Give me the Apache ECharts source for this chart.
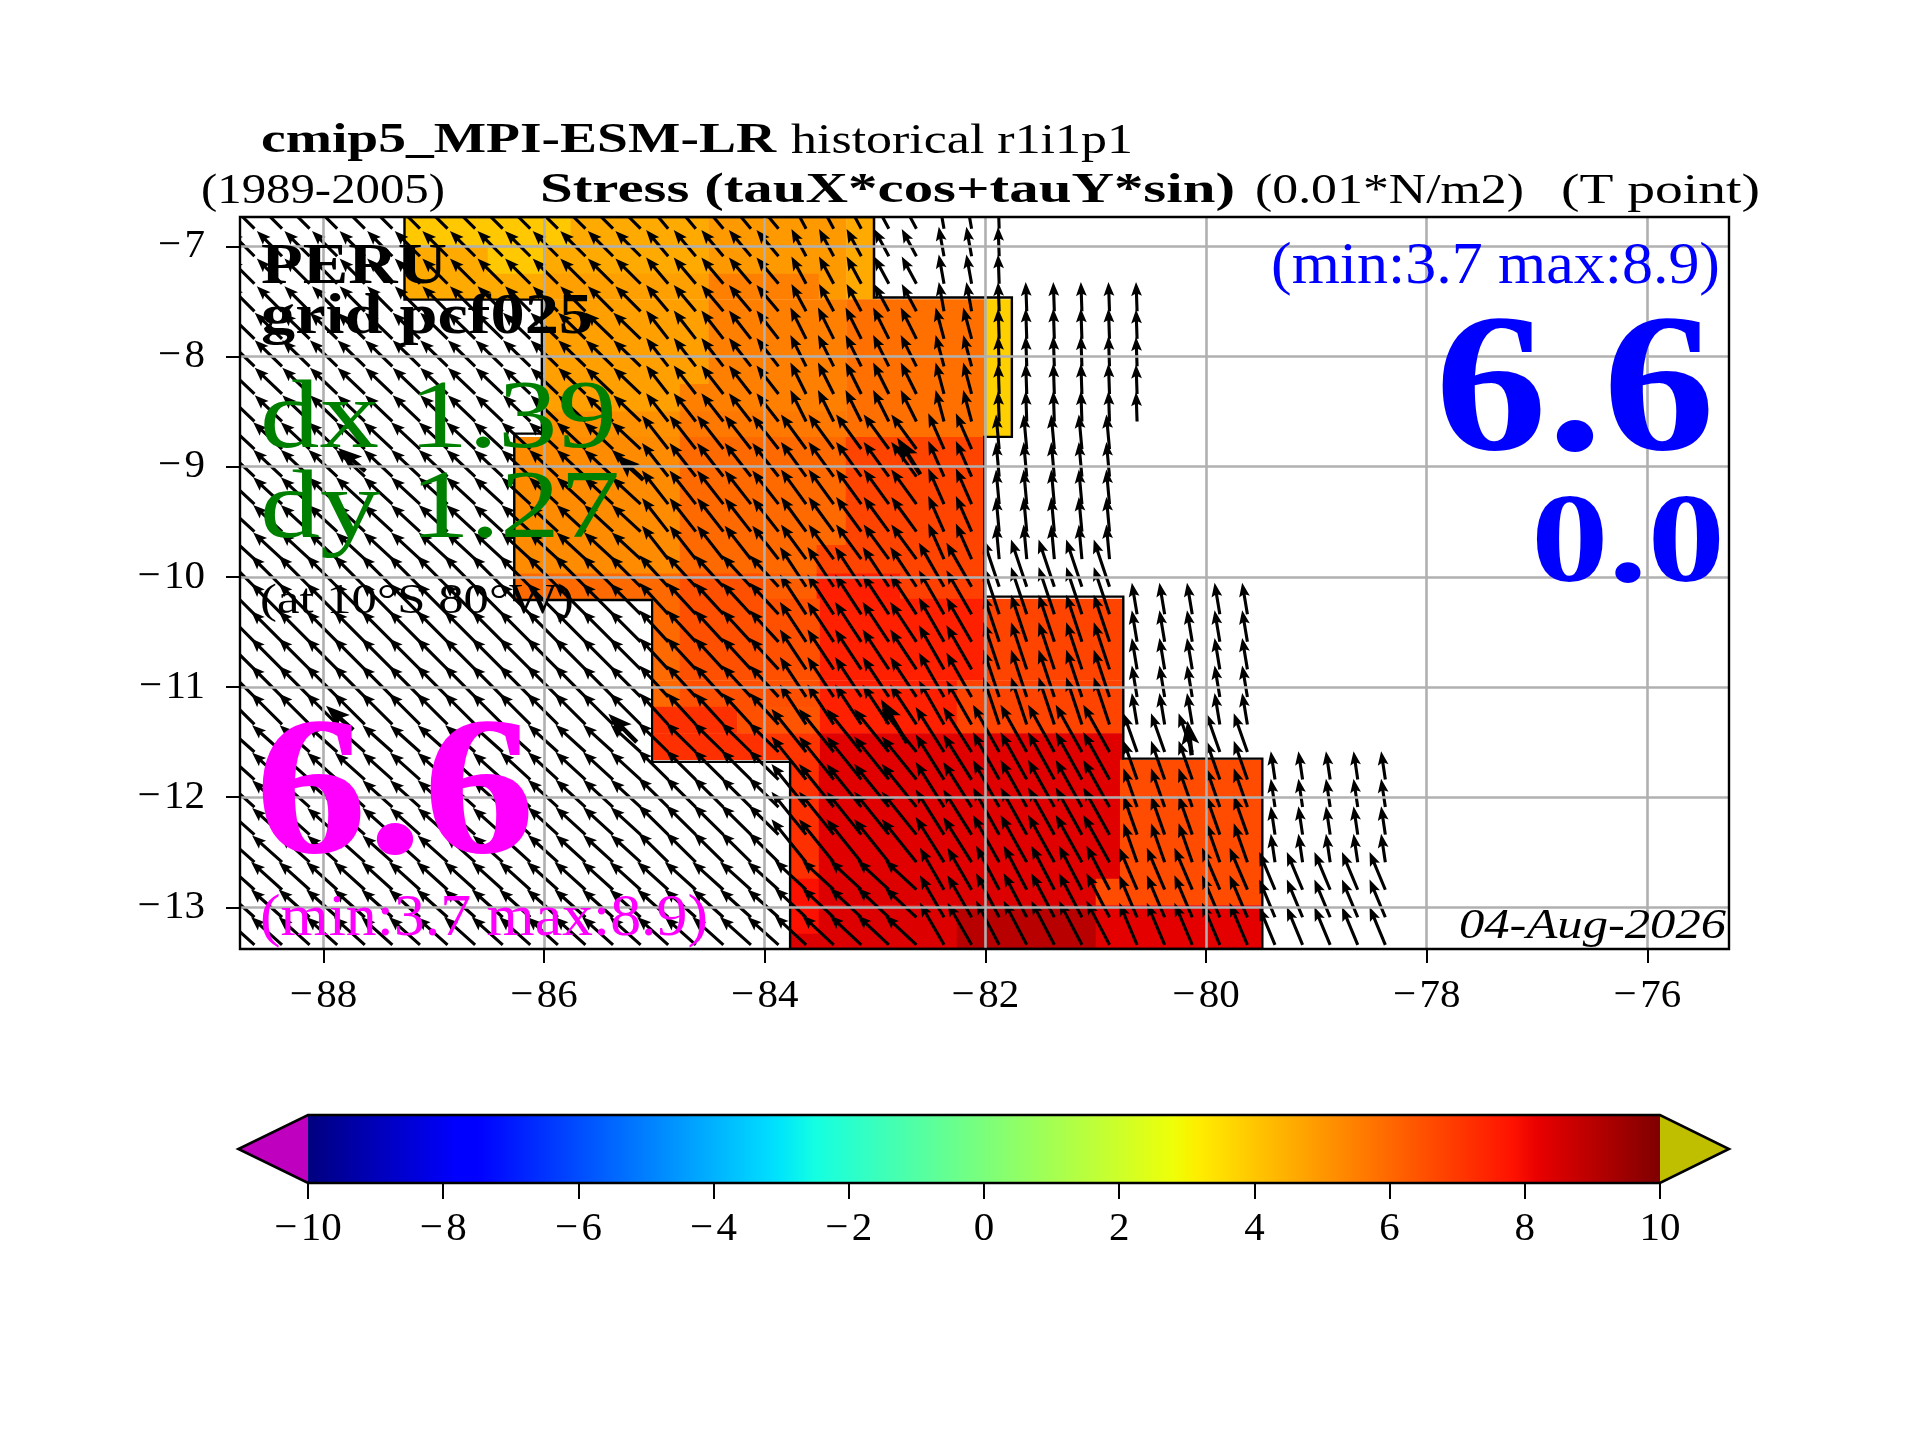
<!DOCTYPE html>
<html><head><meta charset="utf-8">
<style>html,body{margin:0;padding:0;background:#fff}#c{width:1920px;height:1440px}</style>
<script src="https://cdn.jsdelivr.net/npm/echarts@6/dist/echarts.min.js"></script>
</head><body><div id="c"></div>
<script>
// ---- axis data
const lonRange = [-88.756, -75.26];
const latRange = [-13.378, -6.734];
const lonTicks = [-88, -86, -84, -82, -80, -78, -76];
const latTicks = [-13, -12, -11, -10, -9, -8, -7];
const colorbarTicksRange = [-10, 10];
const colorbarExtend = [-11.03, 11.02];

// ---- jet colormap [fraction, r, g, b]
const jetStops = [[0,0,0,127],[0.11,0,0,255],[0.125,0,0,255],[0.34,0,219,255],[0.35,0,230,250],[0.375,20,255,226],
  [0.64,238,255,8],[0.65,247,245,0],[0.66,255,236,0],[0.89,255,19,0],[0.91,232,0,0],[1,127,0,0]];

// ---- stress field in latitude bands: band top, band bottom, longitude breaks, values
const bandTop = [-6.734,-7.0,-7.25,-7.48,-8.25,-8.5,-8.73,-9.71,-9.97,-10.2,-10.94,-11.18,-11.42,-11.66,-12.74,-12.98,-13.24];
const bandBottom = [-7.0,-7.25,-7.48,-8.25,-8.5,-8.73,-9.71,-9.97,-10.2,-10.94,-11.18,-11.42,-11.66,-12.74,-12.98,-13.24,-13.378];
const bandBreaks = [
 [-87.27,-85.76,-84.51,-83.26,-83.0],
 [-87.27,-86.51,-86.01,-84.51,-83.26,-83.0],
 [-87.27,-86.01,-84.51,-83.51,-83.26,-83.0],
 [-86.01,-84.51,-83.26,-82.01,-81.76],
 [-86.01,-84.77,-83.26,-82.01,-81.76],
 [-86.01,-84.77,-83.26,-82.01,-81.76],
 [-86.28,-84.77,-83.27,-82.01],
 [-86.28,-84.77,-83.53,-82.01],
 [-86.28,-84.77,-84.0,-83.53,-82.77,-82.01],
 [-85.01,-84.77,-83.5,-82.01,-80.75],
 [-85.01,-84.77,-83.5,-82.26,-80.75],
 [-85.01,-84.25,-84.0,-83.5,-82.26,-80.75],
 [-85.01,-84.0,-83.5,-80.75],
 [-83.77,-83.51,-80.78,-79.49],
 [-83.77,-83.51,-81.0,-79.49],
 [-83.77,-83.51,-82.26,-81.0,-79.49],
 [-83.77,-82.26,-81.0,-79.49]
];
const bandValues = [
 [3.96,4.6,4.96,4.6],
 [4.6,3.96,4.6,4.96,4.6],
 [4.6,4.81,5.49,4.96,4.6],
 [4.81,5.49,5.83,3.8],
 [4.81,5.49,5.83,3.8],
 [5.15,5.66,5.83,3.8],
 [5.24,5.96,6.76],
 [5.24,5.96,6.76],
 [5.96,6.51,6.2,7.56,6.84],
 [5.96,6.51,7.52,6.76],
 [5.96,6.51,7.52,6.76],
 [7.18,6.51,6.4,7.52,6.76],
 [7.18,7.08,8.34],
 [7.18,8.34,6.59],
 [7.86,8.4,6.59],
 [7.86,8.4,9.0,8.26],
 [8.4,9.0,8.26]
];
const maskOutlineLon = [-87.265,-87.265,-86.02,-86.02,-86.27,-86.27,-85.02,-85.02,-83.77,-83.77,-79.49,-79.49,-80.75,-80.75,-82.01,-82.01,-81.76,-81.76,-83.01,-83.01];
const maskOutlineLat = [-6.734,-7.484,-7.484,-8.70,-8.70,-10.21,-10.21,-11.68,-11.68,-13.378,-13.378,-11.65,-11.65,-10.18,-10.18,-8.73,-8.73,-7.465,-7.465,-6.734];

// ---- wind stress vectors
const arrowLons = [-88.625,-88.375,-88.125,-87.875,-87.625,-87.375,-87.125,-86.875,-86.625,-86.375,-86.125,-85.875,-85.625,-85.375,-85.125,-84.875,-84.625,-84.375,-84.125,-83.875,-83.625,-83.375,-83.125,-82.875,-82.625,-82.375,-82.125,-81.875,-81.625,-81.375,-81.125,-80.875,-80.625,-80.375,-80.125,-79.875,-79.625,-79.375,-79.125,-78.875,-78.625,-78.375];
const arrowLats = [-6.84,-7.09,-7.34,-7.59,-7.84,-8.09,-8.34,-8.59,-8.84,-9.09,-9.34,-9.59,-9.84,-10.09,-10.34,-10.59,-10.84,-11.09,-11.34,-11.59,-11.84,-12.09,-12.34,-12.59,-12.84,-13.09,-13.34];
const arrowLastLon = [-81.875,-81.875,-81.875,-80.625,-80.625,-80.625,-80.625,-80.625,-80.875,-80.875,-80.875,-80.875,-80.875,-80.875,-79.625,-79.625,-79.625,-79.625,-79.625,-79.625,-78.375,-78.375,-78.375,-78.375,-78.375,-78.375,-78.375];
const vectorLonEdges = [-86.25,-85,-83.75,-82.5,-82,-80.75,-79.5,-70];
const vectorLatEdges = [-7.7,-8.7,-9.95,-11.45,-12.7,-20];
const tauX = [
 [-4.8,-4.8,-4.2,-2.8,-1.0,-0.2,-0.2,-0.2],
 [-5.2,-5.2,-4.2,-3.0,-1.6,-0.2,-0.2,-0.2],
 [-5.5,-5.5,-5.0,-4.8,-3.0,-0.6,-0.6,-0.6],
 [-5.9,-5.9,-5.5,-5.0,-4.8,-3.0,-1.0,-1.0],
 [-5.7,-5.7,-5.7,-6.6,-5.4,-5.0,-2.6,-0.8],
 [-5.9,-5.9,-5.9,-6.0,-4.6,-4.4,-3.4,-3.0]
];
const tauY = [
 [4.8,4.8,5.0,5.2,5.6,5.6,5.6,5.6],
 [5.0,5.0,5.4,6.0,6.0,5.8,5.6,5.6],
 [5.1,5.1,6.4,6.6,6.8,6.6,6.6,6.6],
 [5.9,5.9,6.0,7.6,8.4,9.0,6.0,6.0],
 [5.1,5.2,5.6,8.2,8.6,9.0,7.4,5.4],
 [5.3,5.3,5.3,5.6,8.0,8.4,8.0,7.2]
];
const markerLon = [-82.59,-85.10,-87.62,-85.16,-87.73,-82.71,-80.13];
const markerLat = [-9.07,-9.12,-9.04,-11.50,-11.39,-11.51,-11.62];
const markerTauX = [-4.4,-5.2,-5.2,-5.4,-5.2,-5.0,-0.8];
const markerTauY = [7.0,4.8,4.4,5.4,4.6,8.4,6.6];
const lengthScaleDeg = 0.0476;

// ---- texts: content, left, right, baseline, size, weight, style, colour
const serif = '"Liberation Serif","Times New Roman",serif';
const textItems = [
 ['cmip5_MPI-ESM-LR',261,776,153,43,'bold','normal','#000'],
 ['historical r1i1p1',791,1133,153,43,'normal','normal','#000'],
 ['(1989-2005)',201,445,203,43,'normal','normal','#000'],
 ['Stress (tauX*cos+tauY*sin)',540,1235,203,43,'bold','normal','#000'],
 ['(0.01*N/m2)',1255,1524,203,43,'normal','normal','#000'],
 ['(T point)',1561,1760,203,43,'normal','normal','#000'],
 ['PERU',261,447,284,56,'bold','normal','#000'],
 ['grid pcf025',261,593,334,56,'bold','normal','#000'],
 ['dx 1.39',260,617,448,98,'normal','normal','#008000'],
 ['dy 1.27',260,620,538,98,'normal','normal','#008000'],
 ['(at 10\u00b0S 80\u00b0W)',260,574,613,43,'normal','normal','#000'],
 ['6.6',255,535,855,197,'bold','normal','#ff00ff'],
 ['(min:3.7 max:8.9)',260,708,935,60,'normal','normal','#ff00ff'],
 ['(min:3.7 max:8.9)',1271,1720,283,60,'normal','normal','#0000ff'],
 ['6.6',1435,1715,452,197,'bold','normal','#0000ff'],
 ['0.0',1531,1725,583,127,'bold','normal','#0000ff'],
 ['04-Aug-2026',1459,1726,938,43,'normal','italic','#000']
];
const baselineNudge = 0.065;

// ---- helpers
function jet(v){
  const t=Math.max(0,Math.min(1,(v-colorbarTicksRange[0])/(colorbarTicksRange[1]-colorbarTicksRange[0])));
  for(let i=1;i<jetStops.length;i++){
    if(t<=jetStops[i][0]){
      const a=jetStops[i-1],b=jetStops[i],f=(t-a[0])/(b[0]-a[0]);
      return 'rgb('+[1,2,3].map(k=>Math.round(a[k]+(b[k]-a[k])*f)).join(',')+')';
    }
  }
  return 'rgb(127,0,0)';
}
function groupIndex(val,edges,desc){
  for(let i=0;i<edges.length;i++){ if(desc? val>edges[i] : val<edges[i]) return i; }
  return edges.length-1;
}
const cells=[];
bandTop.forEach((top,i)=>{
  const br=bandBreaks[i];
  bandValues[i].forEach((v,j)=>cells.push([br[j],br[j+1],bandBottom[i],top,v]));
});
const arrows=[];
arrowLats.forEach((lat,r)=>{
  arrowLons.forEach(lon=>{
    if(lon>arrowLastLon[r]+1e-6) return;
    const gx=groupIndex(lon,vectorLonEdges,false), gy=groupIndex(lat,vectorLatEdges,true);
    arrows.push([lon,lat,tauX[gy][gx],tauY[gy][gx]]);
  });
});
const markers=markerLon.map((lon,i)=>[lon,markerLat[i],markerTauX[i],markerTauY[i]]);

function arrowRender(headLen,headHalf,shaft,notch){
  return function(params,api){
    const lon=api.value(0),lat=api.value(1),u=api.value(2),v=api.value(3);
    const a=api.coord([lon,lat]), b=api.coord([lon+u*lengthScaleDeg,lat+v*lengthScaleDeg]);
    const dx=b[0]-a[0],dy=b[1]-a[1],L=Math.hypot(dx,dy)||1,ux=dx/L,uy=dy/L,nx=-uy,ny=ux;
    const p=(al,ac)=>[a[0]+ux*al+nx*ac,a[1]+uy*al+ny*ac];
    return {type:'polygon',shape:{points:[
      p(0,shaft),p(L-notch,shaft),p(L-headLen,headHalf),p(L,0),p(L-headLen,-headHalf),p(L-notch,-shaft),p(0,-shaft)
    ]},style:{fill:'#000'}};
  };
}

const chart=echarts.init(document.getElementById('c'),null,{renderer:'canvas',width:1920,height:1440});
const labelFont={fontFamily:serif,fontSize:41,color:'#000'};
const minus=v=>String(v).replace('-','\u2212\u200a');

const mc=document.createElement('canvas').getContext('2d');
const graphics=textItems.map(t=>{
  const font=`${t[6]} ${t[5]} ${t[4]}px ${serif}`;
  mc.font=font;
  const m=mc.measureText(t[0]);
  const mid=(m.fontBoundingBoxAscent-m.fontBoundingBoxDescent)/2;
  return {type:'text',z:20,silent:true,x:t[1],y:t[3]-mid+baselineNudge*t[4],scaleX:(t[2]-t[1])/m.width,
    style:{text:t[0],x:0,y:0,fill:t[7],font,verticalAlign:'middle',align:'left'}};
});

chart.setOption({
  animation:false,
  backgroundColor:'#fff',
  grid:[
    {left:240,top:217,width:1489,height:732,show:true,backgroundColor:'transparent',borderColor:'#000',borderWidth:2.4,z:8},
    {left:308,top:1115,width:1352,height:68,show:false}
  ],
  xAxis:[
    {type:'value',gridIndex:0,min:lonRange[0],max:lonRange[1],z:6,
     axisLine:{show:false},
     axisTick:{show:true,length:14,customValues:lonTicks,lineStyle:{color:'#000',width:2}},
     axisLabel:{show:true,customValues:lonTicks,margin:27,formatter:minus,...labelFont},
     splitLine:{show:true,lineStyle:{color:'#b0b0b0',width:2.6}}},
    {type:'value',gridIndex:1,min:colorbarTicksRange[0],max:colorbarTicksRange[1],interval:2,z:6,
     axisLine:{show:false},
     axisTick:{show:true,length:16,lineStyle:{color:'#000',width:2}},
     axisLabel:{show:true,margin:26,formatter:minus,...labelFont},
     splitLine:{show:false}}
  ],
  yAxis:[
    {type:'value',gridIndex:0,min:latRange[0],max:latRange[1],z:6,
     axisLine:{show:false},
     axisTick:{show:true,length:14,customValues:latTicks,lineStyle:{color:'#000',width:2}},
     axisLabel:{show:true,customValues:latTicks,margin:35,padding:[4,0,0,0],formatter:minus,...labelFont},
     splitLine:{show:true,lineStyle:{color:'#b0b0b0',width:2.6}}},
    {type:'value',gridIndex:1,min:0,max:1,show:false}
  ],
  series:[
    {type:'custom',name:'field',xAxisIndex:0,yAxisIndex:0,z:1,clip:true,silent:true,data:cells,
     encode:{x:[0,1],y:[2,3]},
     renderItem(p,api){
       const a=api.coord([api.value(0),api.value(3)]),b=api.coord([api.value(1),api.value(2)]);
       return {type:'rect',shape:{x:a[0],y:a[1],width:b[0]-a[0]+0.4,height:b[1]-a[1]+0.4},style:{fill:jet(api.value(4))}};
     }},
    {type:'custom',name:'mask',xAxisIndex:0,yAxisIndex:0,z:2,clip:true,silent:true,
     data:maskOutlineLon.map((x,i)=>[x,maskOutlineLat[i]]),
     encode:{x:0,y:1},
     renderItem(p,api){
       if(p.dataIndex!==0) return null;
       const pts=maskOutlineLon.map((x,i)=>api.coord([x,maskOutlineLat[i]]));
       return {type:'polygon',shape:{points:pts},style:{fill:'none',stroke:'#000',lineWidth:2.4}};
     }},
    {type:'custom',name:'stress',xAxisIndex:0,yAxisIndex:0,z:3,clip:true,silent:true,data:arrows,
     encode:{x:0,y:1},renderItem:arrowRender(14,5.4,1.55,12)},
    {type:'custom',name:'stress markers',xAxisIndex:0,yAxisIndex:0,z:3,clip:true,silent:true,data:markers,
     encode:{x:0,y:1},renderItem:arrowRender(24,9,2.2,20)},
    {type:'custom',name:'colorbar',xAxisIndex:1,yAxisIndex:1,z:3,silent:true,clip:false,
     data:[[colorbarTicksRange[0],0],[colorbarTicksRange[1],1]],encode:{x:0,y:1},
     renderItem(p,api){
       if(p.dataIndex!==0) return null;
       const lo=colorbarTicksRange[0],hi=colorbarTicksRange[1];
       const tl=api.coord([lo,1]),br=api.coord([hi,0]),bl=api.coord([lo,0]),tr=api.coord([hi,1]);
       const lt=api.coord([colorbarExtend[0],0.5]),rt=api.coord([colorbarExtend[1],0.5]);
       return {type:'group',children:[
         {type:'polygon',shape:{points:[tl,bl,lt]},style:{fill:'#bf00bf'}},
         {type:'polygon',shape:{points:[tr,br,rt]},style:{fill:'#bfbf00'}},
         {type:'rect',shape:{x:tl[0],y:tl[1],width:br[0]-tl[0],height:br[1]-tl[1]},
          style:{fill:new echarts.graphic.LinearGradient(0,0,1,0,jetStops.map(s=>({offset:s[0],color:`rgb(${s[1]},${s[2]},${s[3]})`})))}},
         {type:'polygon',shape:{points:[tl,tr,rt,br,bl,lt]},style:{fill:'none',stroke:'#000',lineWidth:2.6}}
       ]};
     }}
  ],
  graphic:{elements:graphics}
});
</script></body></html>
